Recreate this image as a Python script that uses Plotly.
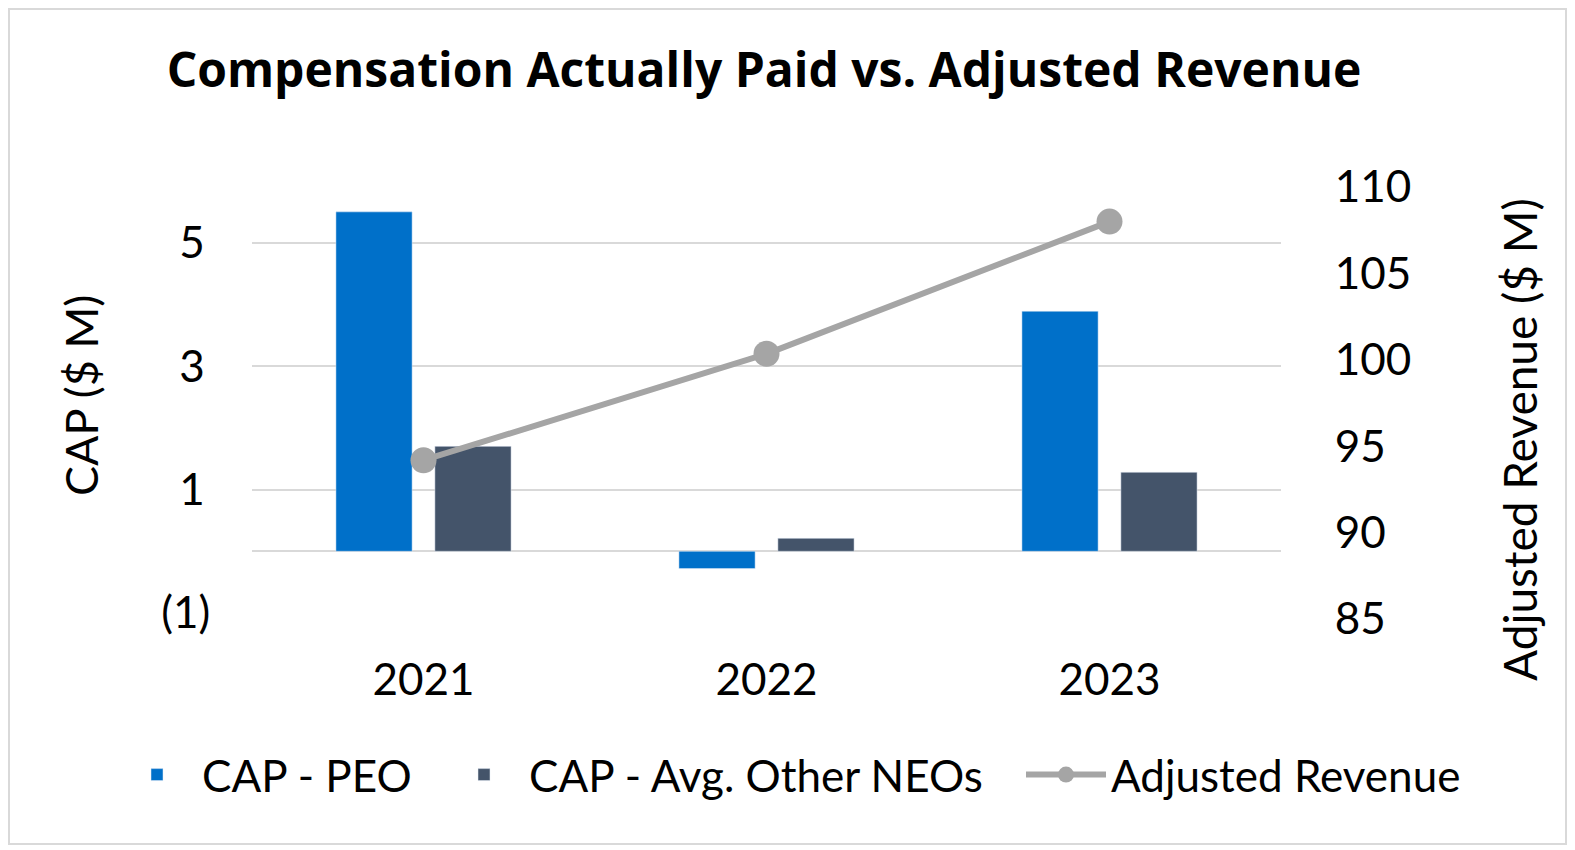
import plotly.graph_objects as go

years = ["2021", "2022", "2023"]
cap_peo = [5.50, -0.28, 3.89]
cap_other = [1.70, 0.21, 1.28]
adj_revenue = [93.84, 100.0, 107.65]

left_tickvals = [-1, 1, 3, 5]
left_ticktext = ["(1)", "1\u2009", "3\u2009", "5\u2009"]
right_tickvals = [85, 90, 95, 100, 105, 110]

FONT = "Lato"
W, H = 1567, 842
ML, MR, MT, MB = 244, 294, 173, 237
PW = W - ML - MR
PH = H - MT - MB

fig = go.Figure()
fig.add_trace(go.Bar(x=years, y=cap_peo, name="CAP - PEO", marker_color="#0070C9",
                     legend="legend"))
fig.add_trace(go.Bar(x=years, y=cap_other, name="CAP - Avg. Other NEOs", marker_color="#44546A",
                     legend="legend2"))
fig.add_trace(go.Scatter(x=years, y=adj_revenue, name="Adjusted Revenue", yaxis="y2",
                         mode="lines+markers",
                         line=dict(color="#A5A5A5", width=6),
                         marker=dict(color="#A5A5A5", size=26),
                         legend="legend3"))

LEG_Y = (MT + PH - 767) / PH


def leg(text_x):
    return dict(orientation="h", xref="paper", yref="paper",
                x=(text_x - 92 - ML) / PW, xanchor="left", y=LEG_Y, yanchor="middle",
                font=dict(size=44), itemwidth=80, bgcolor="rgba(0,0,0,0)")


fig.update_layout(
    width=W, height=H,
    margin=dict(l=ML, r=MR, t=MT, b=MB),
    paper_bgcolor="white", plot_bgcolor="white",
    font=dict(family=FONT, size=44, color="#000000"),
    title=dict(text="<b>Compensation Actually Paid vs. Adjusted Revenue</b>",
               x=756 / W, xanchor="center", y=1 - 62 / H, yanchor="middle",
               font=dict(family="Open Sans", size=48, color="#000000")),
    barmode="group", bargap=0.423, bargroupgap=0.23,
    xaxis=dict(showgrid=False, showline=False, ticks="outside", ticklen=28,
               tickcolor="rgba(0,0,0,0)", tickfont=dict(size=44)),
    yaxis=dict(range=[-1, 6], tickvals=left_tickvals, ticktext=left_ticktext,
               showgrid=True, gridcolor="#D9D9D9", gridwidth=2,
               zeroline=True, zerolinecolor="#D9D9D9", zerolinewidth=2,
               ticks="outside", ticklen=32, tickcolor="rgba(0,0,0,0)",
               tickfont=dict(size=44)),
    yaxis2=dict(range=[85, 110], tickvals=right_tickvals, overlaying="y", side="right",
                showgrid=False, zeroline=False, ticks="outside", ticklen=44,
                tickcolor="rgba(0,0,0,0)", tickfont=dict(size=44), ticklabelshift=6),
    legend=leg(196),
    legend2=leg(523),
    legend3=leg(1105),
    showlegend=True,
)

# axis titles
fig.add_annotation(text="CAP ($ M)", xref="paper", yref="paper",
                   x=(73 - ML) / PW, y=(MT + PH - 388) / PH, textangle=-90,
                   showarrow=False, xanchor="center", yanchor="middle",
                   font=dict(size=45))
fig.add_annotation(text="Adjusted Revenue ($ M)", xref="paper", yref="paper",
                   x=(1511 - ML) / PW, y=(MT + PH - 432) / PH, textangle=-90,
                   showarrow=False, xanchor="center", yanchor="middle",
                   font=dict(size=46))

fig.add_shape(type="rect", xref="paper", yref="paper",
              x0=(1 - ML) / PW, x1=(1558 - ML) / PW,
              y0=(MT + PH - 836) / PH, y1=(MT + PH - 1) / PH,
              line=dict(color="#D9D9D9", width=2), fillcolor="rgba(0,0,0,0)", layer="below")

fig.write_html("out.html")
